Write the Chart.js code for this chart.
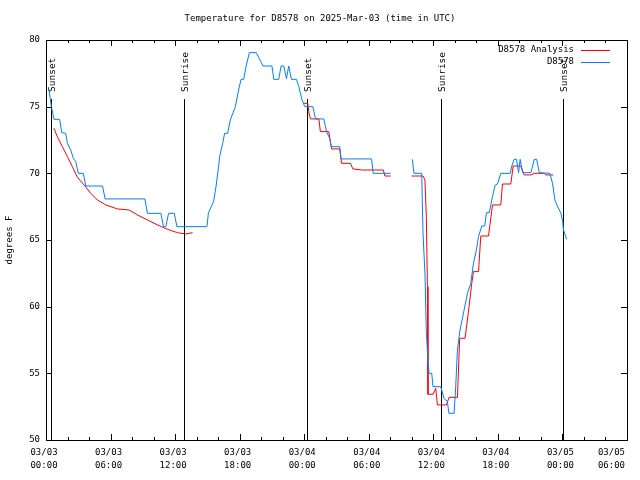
<!DOCTYPE html>
<html>
<head>
<meta charset="utf-8">
<script src="https://cdn.jsdelivr.net/npm/chart.js@4"></script>
<style>body{margin:0;background:#fff}</style>
</head>
<body>
<canvas id="chart" width="640" height="480"></canvas>
<script>
// hours since 03/03 00:00 UTC
const obsHours = [0.28, 0.5, 0.74, 1.27, 1.46, 1.83, 1.99, 2.3, 2.55, 2.76, 3.0, 3.47, 3.7, 5.25, 5.5, 9.19, 9.43, 10.68, 10.92, 11.14,
    11.39, 11.92, 12.17, 14.96, 15.1, 15.58, 15.8, 16.04, 16.14, 16.42, 16.6, 16.88, 17.13, 17.6, 17.9, 18.13, 18.37, 18.62, 18.9, 19.55,
    20.02, 20.17, 21.0, 21.17, 21.63, 21.85, 22.1, 22.35, 22.56, 22.81, 23.28, 23.5, 23.8, 24.05, 24.8, 25.05, 25.82, 26.07, 26.38, 26.5,
    27.3, 27.43, 30.26, 30.41, 32.03, 33.0, 34.05, 34.2, 34.92, 35.04, 35.22, 35.35, 35.5, 35.6, 35.85, 35.97, 36.69, 37.0, 37.3, 37.45,
    37.93, 38.08, 38.24, 38.48, 38.86, 39.17, 39.48, 39.73, 40.0, 40.2, 40.5, 40.78, 40.94, 41.2, 41.5, 41.74, 41.96, 42.27, 43.14, 43.3,
    43.5, 43.73, 43.92, 44.07, 44.3, 45.07, 45.38, 45.6, 45.85, 46.83, 47.08, 47.3, 47.55, 47.86, 48.02, 48.1, 48.39]
const obsTemps = [76.25, 75.0, 74.05, 74.05, 73.05, 73.0, 72.25, 71.75, 71.1, 70.9, 70.0, 70.0, 69.05, 69.05, 68.08, 68.08, 67.0, 67.0, 66.0, 66.0,
    67.0, 67.0, 66.0, 66.0, 67.05, 67.9, 69.0, 70.5, 71.25, 72.25, 73.0, 73.0, 74.0, 75.0, 76.25, 77.05, 77.05, 78.1, 79.05, 79.05,
    78.3, 78.05, 78.05, 77.05, 77.05, 78.05, 78.05, 77.1, 78.05, 77.05, 77.05, 76.5, 75.5, 75.0, 75.0, 74.08, 74.08, 73.13, 72.6, 72.0,
    72.0, 71.08, 71.08, 70.0, 70.0, null, 71.05, 70.0, 70.0, 65.5, 62.5, 58.05, 56.0, 55.0, 55.0, 54.0, 54.0, 53.1, 52.9, 52.0,
    52.0, 54.0, 56.75, 58.25, 59.75, 61.0, 61.75, 63.25, 64.25, 65.25, 66.05, 66.05, 67.05, 67.05, 68.25, 69.1, 69.2, 70.0, 70.0, 70.55,
    71.05, 71.05, 70.05, 71.05, 70.05, 70.05, 71.05, 71.05, 70.05, 70.0, 69.25, 68.0, 67.5, 67.0, 66.4, 65.75, 65.05]

const anaHours = [0.74, 1.05, 1.52, 1.99, 2.45, 2.92, 3.54, 4.16, 4.78, 5.56, 6.64, 7.73, 8.5, 9.43, 10.36, 11.3, 12.22, 13.0, 13.62, 18.0,
    23.96, 24.33, 24.42, 24.58, 25.36, 25.5, 26.28, 26.54, 27.3, 27.47, 28.3, 28.52, 29.4, 31.35, 31.5, 32.03, 33.0,
    33.98, 35.04, 35.22, 35.35, 35.45, 35.5, 35.97, 36.22, 36.38, 37.22, 37.46, 38.24, 38.45, 38.95, 39.32, 39.57, 39.73, 40.2,
    40.41, 41.13, 41.5, 42.27, 42.43, 43.2, 43.42, 44.13, 44.44, 45.07, 45.38, 46.3, 46.46, 47.14]
const anaTemps = [73.38, 72.75, 72.0, 71.25, 70.5, 69.7, 69.13, 68.5, 68.0, 67.63, 67.33, 67.25, 66.88, 66.5, 66.13, 65.8, 65.55, 65.45, 65.55, null,
    75.25, 75.25, 74.63, 74.08, 74.08, 73.13, 73.13, 71.83, 71.83, 70.75, 70.75, 70.33, 70.25, 70.25, 69.8, 69.8, null,
    69.8, 69.8, 69.5, 66.75, 61.5, 53.43, 53.43, 53.88, 52.63, 52.63, 53.2, 53.2, 57.63, 57.63, 60.0, 61.75, 62.63, 62.63,
    65.3, 65.3, 67.63, 67.63, 69.2, 69.2, 70.55, 70.55, 69.88, 69.88, 70.0, 70.0, 69.88, 69.88]

const sunHours = [0.47, 12.85, 24.3, 36.69, 48.05]
const sunNames = ['Sunset', 'Sunrise', 'Sunset', 'Sunrise', 'Sunset']

const xTickValues = [0, 6, 12, 18, 24, 30, 36, 42, 48, 54]
const xTickDates = ['03/03', '03/03', '03/03', '03/03', '03/04', '03/04', '03/04', '03/04', '03/05', '03/05']
const xTickTimes = ['00:00', '06:00', '12:00', '18:00', '00:00', '06:00', '12:00', '18:00', '00:00', '06:00']

const seriesNames = ['D8578 Analysis', 'D8578']
const FONT = '9px "DejaVu Sans Mono"'

const toPoints = (xs, ys) => xs.map((x, i) => ({ x: x, y: ys[i] }))

const gnuplotDecor = {
    id: 'gnuplotDecor',
    beforeDraw(chart) {
        const ctx = chart.ctx
        ctx.save()
        ctx.fillStyle = '#fff'
        ctx.fillRect(0, 0, chart.width, chart.height)
        ctx.restore()
    },
    beforeDatasetsDraw(chart) {
        const ctx = chart.ctx
        const xs = chart.scales.x
        const a = chart.chartArea
        ctx.save()
        ctx.strokeStyle = '#000'
        ctx.lineWidth = 1
        ctx.fillStyle = '#000'
        ctx.font = '9.5px "DejaVu Sans Mono"'
        sunHours.forEach((h, i) => {
            const px = Math.round(xs.getPixelForValue(h)) + 0.5
            ctx.beginPath()
            ctx.moveTo(px, 99)
            ctx.lineTo(px, a.bottom)
            ctx.stroke()
            ctx.save()
            ctx.translate(px + 1.5, 92)
            ctx.rotate(-Math.PI / 2)
            ctx.textAlign = 'left'
            ctx.textBaseline = 'middle'
            ctx.fillText(sunNames[i], 0, 0)
            ctx.restore()
        })
        ctx.restore()
    },
    afterDraw(chart) {
        const ctx = chart.ctx
        const xs = chart.scales.x
        const ys = chart.scales.y
        const a = chart.chartArea
        ctx.save()
        ctx.strokeStyle = '#000'
        ctx.fillStyle = '#000'
        ctx.lineWidth = 1
        ctx.font = FONT

        // border
        ctx.strokeRect(Math.round(a.left) + 0.5, Math.round(a.top) + 0.5,
            Math.round(a.right - a.left), Math.round(a.bottom - a.top))

        // x ticks (major every 6h, minor every 2h), inward on both sides
        for (let h = 0; h <= 54; h += 2) {
            const px = Math.round(xs.getPixelForValue(h)) + 0.5
            const len = h % 6 === 0 ? 6 : 3
            ctx.beginPath()
            ctx.moveTo(px, a.bottom)
            ctx.lineTo(px, a.bottom - len)
            ctx.moveTo(px, a.top)
            ctx.lineTo(px, a.top + len)
            ctx.stroke()
        }
        // y ticks
        ys.ticks.forEach(t => {
            const py = Math.round(ys.getPixelForValue(t.value)) + 0.5
            ctx.beginPath()
            ctx.moveTo(a.left, py)
            ctx.lineTo(a.left + 6, py)
            ctx.moveTo(a.right, py)
            ctx.lineTo(a.right - 6, py)
            ctx.stroke()
        })

        // x tick labels
        ctx.textBaseline = 'middle'
        xTickValues.forEach((v, i) => {
            let px = xs.getPixelForValue(v) - 2
            ctx.textAlign = 'center'
            if (i === xTickValues.length - 1) {
                ctx.textAlign = 'right'
                px = 625
            }
            ctx.fillText(xTickDates[i], px, 453)
            ctx.fillText(xTickTimes[i], px, 466)
        })

        // title
        ctx.textAlign = 'center'
        ctx.fillText('Temperature for D8578 on 2025-Mar-03 (time in UTC)', 320, 19)

        // y axis title
        ctx.save()
        ctx.translate(10, 240)
        ctx.rotate(-Math.PI / 2)
        ctx.fillText('degrees F', 0, 0)
        ctx.restore()

        // legend
        const colors = ['#ff0000', '#0080ff']
        const rows = [50, 62]
        seriesNames.forEach((name, i) => {
            ctx.textAlign = 'right'
            ctx.fillStyle = '#000'
            ctx.fillText(name, 574, rows[i])
            ctx.strokeStyle = colors[i]
            ctx.beginPath()
            ctx.moveTo(581, rows[i] + 0.5)
            ctx.lineTo(610, rows[i] + 0.5)
            ctx.stroke()
        })
        ctx.restore()
    }
}

const chart = new Chart(document.getElementById('chart').getContext('2d'), {
    type: 'line',
    data: {
        datasets: [{
            label: seriesNames[1],
            data: toPoints(obsHours, obsTemps),
            borderColor: '#0080ff',
            borderWidth: 1,
            pointRadius: 0,
            tension: 0,
            spanGaps: false,
            fill: false
        }, {
            label: seriesNames[0],
            data: toPoints(anaHours, anaTemps),
            borderColor: '#ff0000',
            borderWidth: 1,
            pointRadius: 0,
            tension: 0,
            spanGaps: false,
            fill: false
        }]
    },
    options: {
        responsive: false,
        animation: false,
        layout: { padding: { top: 40, right: 13, left: 0, bottom: 0 } },
        plugins: {
            legend: { display: false },
            tooltip: { enabled: false }
        },
        scales: {
            x: {
                type: 'linear',
                min: 0,
                max: 54,
                ticks: { display: false },
                grid: { display: false },
                border: { display: false },
                afterFit: scale => { scale.height = 40 }
            },
            y: {
                min: 50,
                max: 80,
                ticks: {
                    stepSize: 5,
                    color: '#000',
                    font: { family: 'DejaVu Sans Mono', size: 9 },
                    padding: 6
                },
                grid: { display: false, drawTicks: false },
                border: { display: false },
                afterFit: scale => { scale.width = 46 }
            }
        }
    },
    plugins: [gnuplotDecor]
})
</script>
</body>
</html>
